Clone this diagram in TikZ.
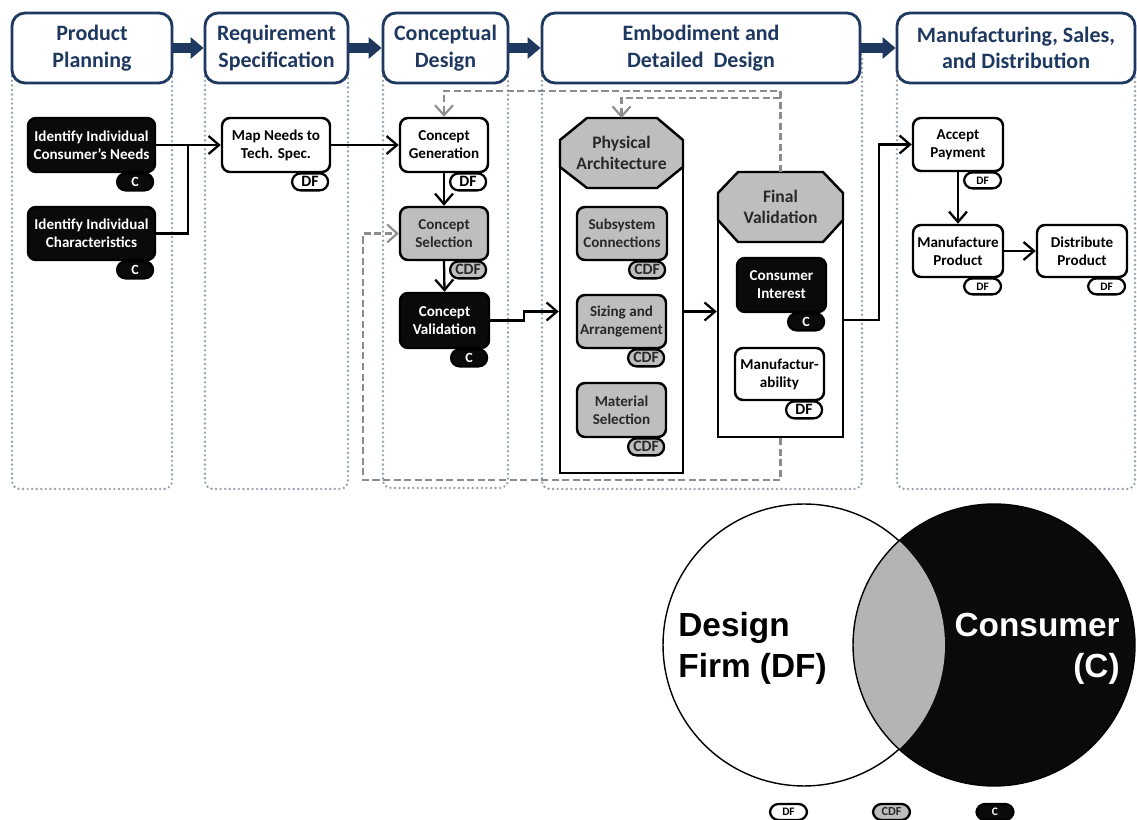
\documentclass[tikz,border=0pt]{standalone}
\usepackage{fontspec}
\setmainfont{Carlito}
\newfontfamily\arialbf{Liberation Sans}
\usetikzlibrary{arrows.meta,calc}

\definecolor{navy}{RGB}{31,56,96}
\definecolor{dotgray}{RGB}{150,160,172}
\definecolor{dashgray}{RGB}{140,140,140}
\definecolor{boxgray}{RGB}{190,190,190}
\definecolor{venngray}{RGB}{180,180,180}
\definecolor{nearblack}{RGB}{10,10,10}
\definecolor{darktext}{RGB}{40,40,40}

\newcommand\pbox[7]{\node[#6, minimum width={(#4-#2)*0.02cm}, minimum height={(#5-#3)*0.02cm}] (#1) at ({(#2+#4)/2},{(#3+#5)/2}) {#7};}
\newcommand\ptag[3]{\node[#2] (#1t) at ([xshift=-0.04cm,yshift=0.02cm]#1.south east) {#3};}

\tikzset{
  nodebase/.style={draw, line width=1.4pt, rounded corners=0.16cm, inner sep=1pt, align=center,
    font=\fontsize{8.6}{10.2}\selectfont\bfseries},
  wbox/.style={nodebase, fill=white, text=black},
  gbox/.style={nodebase, fill=boxgray, text=darktext},
  kbox/.style={nodebase, fill=nearblack, text=white},
  tagbase/.style={draw, line width=1.3pt, rounded corners=0.17cm, minimum width=0.72cm,
    minimum height=0.34cm, inner sep=0pt, anchor=north east,
    font=\fontsize{9}{9}\selectfont\bfseries},
  tagW/.style={tagbase, fill=white, text=black},
  tagG/.style={tagbase, fill=boxgray, text=darktext},
  tagK/.style={tagbase, fill=nearblack, text=white, font=\fontsize{8}{9}\selectfont\bfseries},
  tagWs/.style={tagW, minimum width=0.74cm, minimum height=0.32cm, font=\fontsize{6.5}{7}\selectfont\bfseries},
  hdr/.style={draw=navy, line width=1.6pt, rounded corners=0.26cm, fill=white, text=navy,
    align=center, font=\fontsize{12.5}{15}\selectfont\bfseries, inner sep=0pt},
  colbox/.style={draw=dotgray, line width=1.5pt, dash pattern=on 0pt off 2.6pt, line cap=round,
    rounded corners=0.16cm},
  flowline/.style={line width=1.3pt, -{Straight Barb[length=2.1mm,width=3.6mm]}},
  bigarrow/.style={navy, line width=0.2cm, -{Triangle[length=0.26cm,width=0.42cm]}},
  fbloop/.style={dashgray, line width=1.2pt, dash pattern=on 4pt off 2pt},
  fbtip/.style={-{Straight Barb[length=2mm,width=3.6mm]}},
  contbox/.style={draw, line width=1.4pt, fill=white, inner sep=0pt},
  octo/.style={draw, line width=1.4pt, fill=boxgray},
  octtxt/.style={align=center, text=darktext, font=\fontsize{10}{11.5}\selectfont\bfseries, inner sep=0pt},
  venntxt/.style={inner sep=0pt, font=\arialbf\bfseries\fontsize{19}{23}\selectfont},
}

\begin{document}
\begin{tikzpicture}[x=0.02cm, y=-0.02cm]
\useasboundingbox (0,0) rectangle (1137,820);

% dotted phase columns
\draw[colbox] (12,50) rectangle (172,489);
\draw[colbox] (205,50) rectangle (348,489);
\draw[colbox] (383,50) rectangle (508,488);
\draw[colbox] (542,50) rectangle (862,489);
\draw[colbox] (897,50) rectangle (1135,489);

% headers
\pbox{h1}{12}{13}{172}{83}{hdr}{Product\\Planning}
\pbox{h2}{205}{13}{348}{83}{hdr}{Requirement\\Specification}
\pbox{h3}{383}{13}{508}{83}{hdr}{Conceptual\\Design}
\pbox{h4}{542}{13}{860}{83}{hdr}{Embodiment and\\Detailed\ \ Design}
\pbox{h5}{897}{13}{1135}{83}{hdr}{Manufacturing, Sales,\\and Distribution}
\draw[bigarrow] (h1.east) -- (h2.west);
\draw[bigarrow] (h2.east) -- (h3.west);
\draw[bigarrow] (h3.east) -- (h4.west);
\draw[bigarrow] (h4.east) -- (h5.west);

% product planning
\pbox{in1}{28}{118}{155}{172}{kbox}{Identify Individual\\Consumer’s Needs}
\ptag{in1}{tagK}{C}
\pbox{in2}{28}{207}{155}{260}{kbox}{Identify Individual\\Characteristics}
\ptag{in2}{tagK}{C}

% requirement specification
\pbox{mn}{222}{118}{330}{172}{wbox}{Map Needs to\\Tech. Spec.}
\ptag{mn}{tagW}{DF}

% conceptual design
\pbox{cg}{400}{118}{488}{172}{wbox}{Concept\\Generation}
\ptag{cg}{tagW}{DF}
\pbox{cs}{400}{207}{488}{260}{gbox}{Concept\\Selection}
\ptag{cs}{tagG}{CDF}
\pbox{cv}{400}{293}{489}{348}{kbox}{Concept\\Validation}
\ptag{cv}{tagK}{C}

% physical architecture container
\pbox{pa}{560}{150}{683}{473}{contbox}{}
\draw[octo] (587,118) -- (657,118) -- (683,140) -- (683,167) -- (657,188) -- (587,188) -- (560,167) -- (560,140) -- cycle;
\node[octtxt] (paT) at (621.5,153) {Physical\\Architecture};
\pbox{sc}{577}{207}{667}{260}{gbox}{Subsystem\\Connections}
\ptag{sc}{tagG}{CDF}
\pbox{sa}{577}{295}{666}{348}{gbox}{Sizing and\\Arrangement}
\ptag{sa}{tagG}{CDF}
\pbox{ms}{577}{383}{666}{437}{gbox}{Material\\Selection}
\ptag{ms}{tagG}{CDF}

% final validation container
\pbox{fv}{718}{210}{843}{437}{contbox}{}
\draw[octo] (738,172) -- (823,172) -- (843,193) -- (843,220) -- (823,242) -- (738,242) -- (718,220) -- (718,193) -- cycle;
\node[octtxt] (fvT) at (780.5,207) {Final\\Validation};
\pbox{ci}{737}{258}{826}{312}{kbox}{Consumer\\Interest}
\ptag{ci}{tagK}{C}
\pbox{mf}{735}{348}{824}{400}{wbox}{Manufactur-\\ability}
\ptag{mf}{tagW}{DF}

% manufacturing, sales, distribution
\pbox{ap}{913}{118}{1003}{171}{wbox}{Accept\\Payment}
\ptag{ap}{tagWs}{DF}
\pbox{mp}{913}{225}{1003}{277}{wbox}{Manufacture\\Product}
\ptag{mp}{tagWs}{DF}
\pbox{dp}{1037}{225}{1127}{277}{wbox}{Distribute\\Product}
\ptag{dp}{tagWs}{DF}

% solid flow connectors
\coordinate (j1) at (188,145);
\draw[flowline] (in1.east) -- (mn.west);
\draw[line width=1.3pt] (in2.east) -| (j1);
\draw[flowline] (mn.east) -- (cg.west);
\draw[flowline] (cg.south) -- (cs.north);
\draw[flowline] (cs.south) -- (cv.north);
\draw[flowline] (cv.east) -- ++(34,0) |- (pa.west);
\draw[flowline] (pa.east) -- (pa.east -| fv.west);
\draw[flowline] ([yshift=0.07cm]fv.east) -- ++(35,0) |- (ap.west);
\draw[flowline] (ap.south) -- (mp.north);
\draw[flowline] (mp.east) -- (dp.west);

% dashed feedback loops
\coordinate (fvtop) at (780.5,172);
\coordinate (lbA) at (780.5,91);
\coordinate (lbB) at (780.5,98);
\coordinate (patop) at (621.5,118);
\coordinate (laA) at (363,480);
\draw[fbloop, fbtip] (fv.south) |- (laA) |- (cs.west);
\draw[fbloop, fbtip] (fvtop) -- (lbA) -| (cg.north);
\draw[fbloop, fbtip] (lbB) -| (patop);

% Venn diagram
\fill[white] (804,645) circle (2.82cm);
\draw[black, line width=0.8pt] (804,645) circle (2.82cm);
\fill[nearblack] (994,645) circle (2.82cm);
\begin{scope}
  \clip (804,645) circle (2.82cm);
  \fill[venngray] (994,645) circle (2.82cm);
\end{scope}
\draw[black, line width=0.8pt] (994,645) circle (2.82cm);
\node[venntxt, anchor=base west] (vd1) at (678,637) {Design};
\node[venntxt, anchor=base west] (vd2) at (678,678) {Firm (DF)};
\node[venntxt, text=white, anchor=base east] (vc1) at (1120,637) {Consumer};
\node[venntxt, text=white, anchor=base east] (vc2) at (1120,678) {(C)};

% legend
\node[tagWs, anchor=center] (lg1) at (788.5,812) {DF};
\node[tagG, anchor=center, minimum width=0.74cm, minimum height=0.32cm, font=\fontsize{7}{7}\selectfont\bfseries] (lg2) at (891.5,812) {CDF};
\node[tagK, anchor=center, minimum width=0.74cm, minimum height=0.32cm, font=\fontsize{6.5}{7}\selectfont\bfseries] (lg3) at (995,812) {C};
\end{tikzpicture}
\end{document}
